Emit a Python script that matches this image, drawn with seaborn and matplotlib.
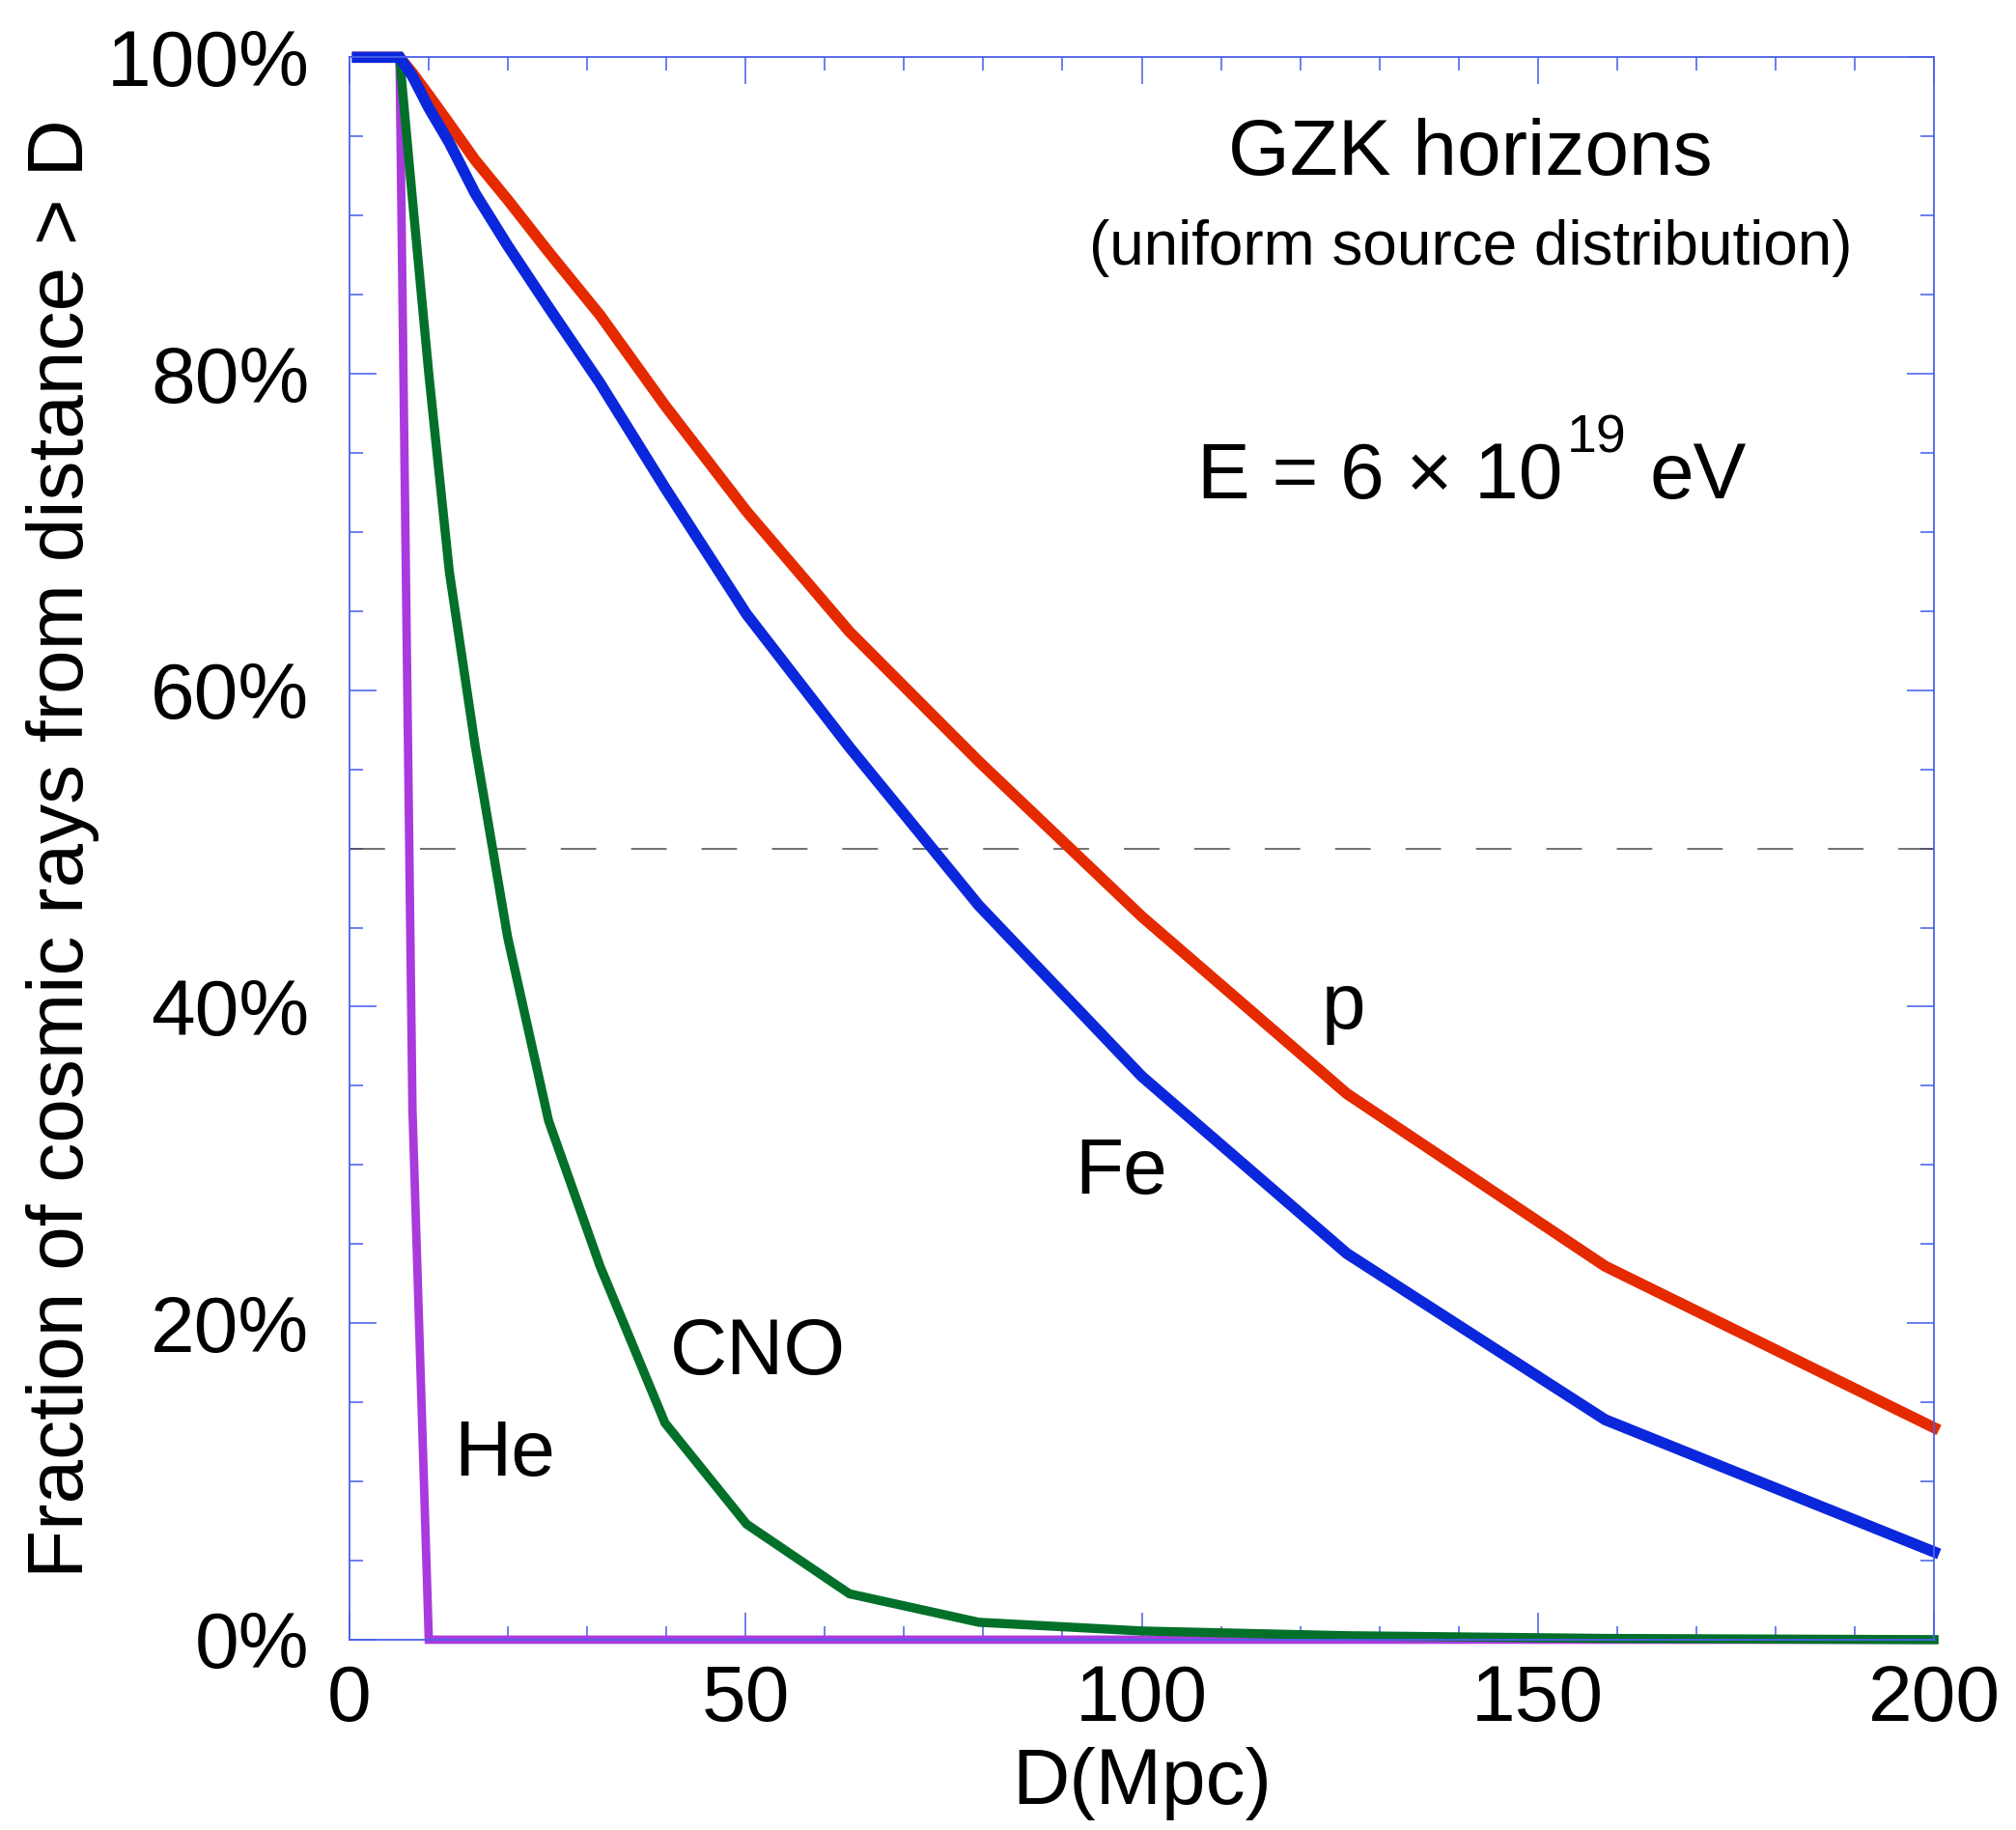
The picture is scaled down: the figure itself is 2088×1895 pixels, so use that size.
import numpy as np
import pandas as pd
import matplotlib
matplotlib.use("Agg")
import matplotlib.pyplot as plt
from matplotlib.ticker import MultipleLocator, FuncFormatter
import seaborn as sns

# Distance grid (Mpc), roughly logarithmic steps
distance = [1, 6.31, 7.94, 10, 12.59, 15.85, 19.95, 25.12, 31.62, 39.81,
            50.12, 63.10, 79.43, 100, 125.9, 158.5, 200]

# Fraction (%) of cosmic rays arriving from sources farther than D
frac_p = [100, 100, 99.0, 97.6, 95.8, 93.5, 91.0, 87.7, 83.7, 78.0,
          71.3, 63.7, 55.5, 45.7, 34.5, 23.6, 13.4]
frac_fe = [100, 100, 98.8, 96.8, 94.6, 91.4, 88.1, 84.2, 79.4, 72.8,
           64.8, 56.4, 46.4, 35.6, 24.4, 13.9, 5.55]
frac_cno = [100, 100, 91.0, 80.0, 67.5, 56.5, 44.4, 32.8, 23.6, 13.7,
            7.3, 2.9, 1.1, 0.55, 0.25, 0.08, 0.0]
frac_he = [100, 100, 33.5, 0, 0, 0, 0, 0, 0, 0,
           0, 0, 0, 0, 0, 0, 0]

species = ["He", "CNO", "p", "Fe"]
series = {"He": frac_he, "CNO": frac_cno, "p": frac_p, "Fe": frac_fe}
colors = {"He": "#a93adc", "CNO": "#03702a", "p": "#e52a00", "Fe": "#0b27dc"}
widths = {"He": 6.3, "CNO": 6.8, "p": 8.3, "Fe": 8.3}

df = pd.DataFrame(
    [(d, v, s) for s in species for d, v in zip(distance, series[s])],
    columns=["D", "frac", "species"],
)

sns.set_theme(style="white")
plt.rcParams["font.family"] = ["Liberation Sans", "DejaVu Sans"]
plt.rcParams["lines.scale_dashes"] = False
plt.rcParams["text.color"] = "black"
plt.rcParams["axes.labelcolor"] = "black"

FS = 59

fig = plt.figure(figsize=(20.88, 18.95), dpi=100)
ax = fig.add_axes([0.1734, 0.1040, 0.7859, 0.8647])

for s in species:
    sub = df[df["species"] == s]
    sns.lineplot(data=sub, x="D", y="frac", ax=ax, color=colors[s],
                 linewidth=widths[s], legend=False, estimator=None, sort=False)
    line = ax.lines[-1]
    line.set_linewidth(widths[s])
    line.set_clip_on(False)
    line.set_solid_capstyle("projecting")
    line.set_solid_joinstyle("miter")

# 50% reference line
ax.axhline(50, color="#4a4a4a", linewidth=1.1, dashes=(26.5, 26.0), zorder=1)

ax.set_xlim(0, 200)
ax.set_ylim(0, 100)

frame_blue = "#4a62ea"
for sp in ax.spines.values():
    sp.set_visible(True)
    sp.set_color(frame_blue)
    sp.set_linewidth(1.3)

ax.xaxis.set_major_locator(MultipleLocator(50))
ax.xaxis.set_minor_locator(MultipleLocator(10))
ax.yaxis.set_major_locator(MultipleLocator(20))
ax.yaxis.set_minor_locator(MultipleLocator(5))
ax.yaxis.set_major_formatter(FuncFormatter(lambda v, _: f"{v:.0f}%"))

ax.tick_params(which="both", direction="in", bottom=True, left=True,
               top=True, right=True, color="#6a7ef0", width=1.4,
               labelcolor="black")
ax.tick_params(which="major", length=20, labelsize=FS)
ax.tick_params(which="minor", length=10)
ax.tick_params(axis="x", which="major", pad=18)
ax.tick_params(axis="y", which="major", pad=30)

ax.set_xlabel("D(Mpc)", fontsize=FS)
ax.set_ylabel("Fraction of cosmic rays from distance > D", fontsize=FS)
ax.xaxis.set_label_coords(0.5, -0.068)
ax.yaxis.set_label_coords(-0.158, 0.5)

# Titles inside the panel
ax.text(141.5, 92.6, "GZK horizons", fontsize=FS, ha="center", va="baseline")
ax.text(141.5, 86.9, "(uniform source distribution)", fontsize=46,
        ha="center", va="baseline")
# Energy: base, raised exponent, unit
ax.text(153.1, 72.1, "E = 6 × 10", fontsize=FS, ha="right", va="baseline")
ax.text(153.6, 75.0, "19", fontsize=40, ha="left", va="baseline")
ax.text(164.1, 72.1, "eV", fontsize=FS, ha="left", va="baseline")

# Curve labels
ax.text(125.5, 38.6, "p", fontsize=FS, ha="center", va="baseline")
ax.text(97.4, 28.2, "Fe", fontsize=FS, ha="center", va="baseline")
ax.text(51.6, 16.8, "CNO", fontsize=FS, ha="center", va="baseline")
ax.text(19.6, 10.4, "He", fontsize=FS, ha="center", va="baseline")

fig.savefig("out.png", dpi=100)
